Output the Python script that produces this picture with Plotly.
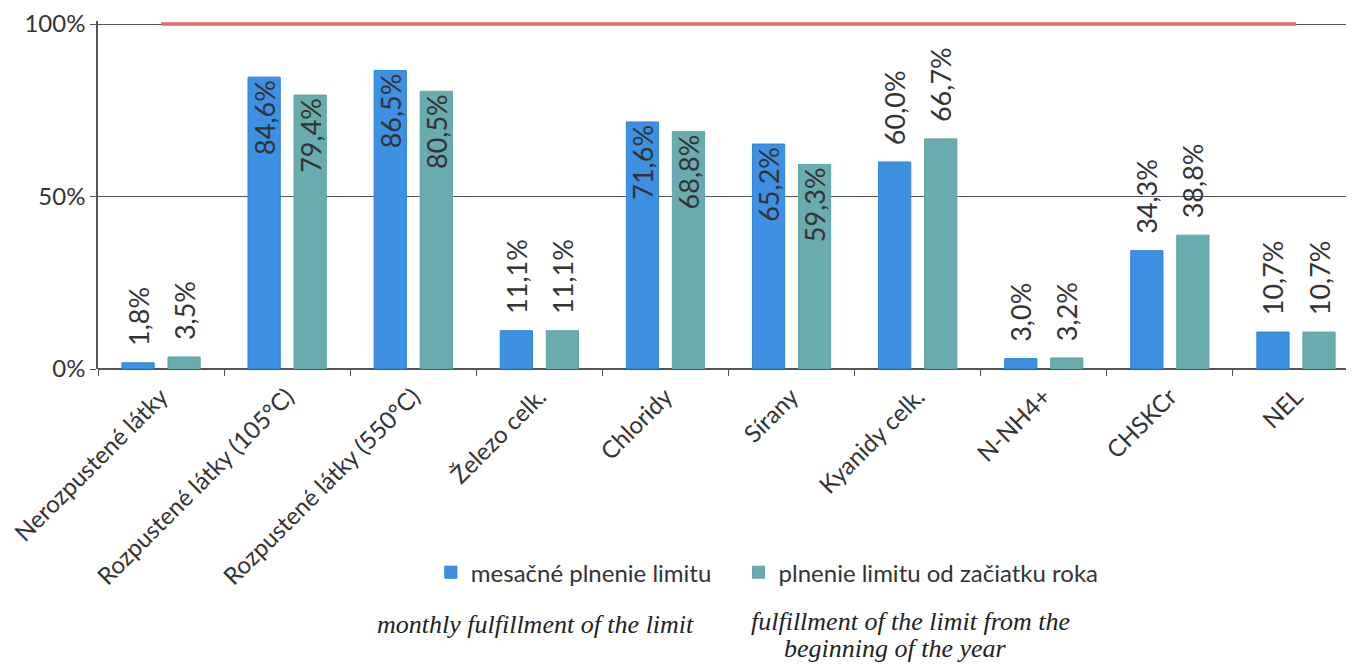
import plotly.graph_objects as go

categories = ["Nerozpustené látky", "Rozpustené látky (105°C)", "Rozpustené látky (550°C)",
              "Železo celk.", "Chloridy", "Sírany", "Kyanidy celk.", "N-NH4+", "CHSKCr", "NEL"]
monthly = [1.8, 84.6, 86.5, 11.1, 71.6, 65.2, 60.0, 3.0, 34.3, 10.7]
ytd = [3.5, 79.4, 80.5, 11.1, 68.8, 59.3, 66.7, 3.2, 38.8, 10.7]
limit = [100, 100, 100, 100, 100, 100, 100, 100, 100, 100]
y_ticks = [0, 50, 100]
y_tick_labels = ["0%", "50%", "100%"]

name_monthly = "mesačné plnenie limitu"
name_ytd = "plnenie limitu od začiatku roka"
note_monthly = "monthly fulfillment of the limit"
note_ytd_1 = "fulfillment of the limit from the"
note_ytd_2 = "beginning of the year"

pos_monthly = ["outside", "inside", "inside", "outside", "inside", "inside", "outside", "outside", "outside", "outside"]
pos_ytd = ["outside", "inside", "inside", "outside", "inside", "inside", "outside", "outside", "outside", "outside"]

def fmt(v, pos):
    s = f"{v:.1f}".replace(".", ",") + "%"
    # small gap between bar top and outside label
    return ("\u00a0\u00a0" + s) if pos == "outside" else s

FONT = "Lato"
TXT = "#333333"
SERIF = "Liberation Serif"

fig = go.Figure()
fig.add_trace(go.Bar(
    x=categories, y=monthly, name=name_monthly, legend="legend",
    marker=dict(color="#3d90e2", line=dict(color="#2a83dc", width=1)),
    text=[fmt(v, p) for v, p in zip(monthly, pos_monthly)], textposition=pos_monthly, textangle=-90,
    insidetextanchor="end", constraintext="none", cliponaxis=False,
    textfont=dict(family=FONT, size=27, color=TXT),
))
fig.add_trace(go.Bar(
    x=categories, y=ytd, name=name_ytd, legend="legend2",
    marker=dict(color="#6aabad", line=dict(color="#5ea3a8", width=1)),
    text=[fmt(v, p) for v, p in zip(ytd, pos_ytd)], textposition=pos_ytd, textangle=-90,
    insidetextanchor="end", constraintext="none", cliponaxis=False,
    textfont=dict(family=FONT, size=27, color=TXT),
))
fig.add_trace(go.Scatter(
    x=categories, y=limit, mode="lines", showlegend=False,
    line=dict(color="#e8686a", width=3.5),
))

legend_style = dict(orientation="h", yanchor="middle", xanchor="left",
                    font=dict(family=FONT, size=24, color=TXT), itemwidth=30,
                    bgcolor="rgba(0,0,0,0)")

fig.update_layout(
    width=1346, height=656,
    margin=dict(l=87, r=0, t=12, b=295),
    paper_bgcolor="white", plot_bgcolor="white",
    barmode="group", bargap=0.27, bargroupgap=0.30,
    font=dict(family=FONT, size=24, color=TXT),
    showlegend=True,
    legend=dict(x=0.265, y=-0.585, **legend_style),
    legend2=dict(x=0.510, y=-0.585, **legend_style),
    xaxis=dict(
        type="category", range=[-0.5, 9.46], tickangle=-45,
        tickson="boundaries", ticks="outside", ticklen=6, tickcolor="#555555",
        ticklabelstandoff=8,
        showline=False, showgrid=False, zeroline=False,
        tickfont=dict(family=FONT, size=24, color=TXT),
    ),
    yaxis=dict(
        range=[0, 100.87], tickvals=y_ticks, ticktext=y_tick_labels,
        showgrid=True, gridcolor="#555555", gridwidth=1,
        zeroline=True, zerolinecolor="#555555", zerolinewidth=1.5,
        showline=True, linecolor="#555555", linewidth=1.5,
        ticks="outside", ticklen=6, tickcolor="#555555",
        ticklabeloverflow="allow",
        tickfont=dict(family=FONT, size=24, color=TXT),
    ),
    annotations=[
        dict(text="<i>" + note_monthly + "</i>", xref="paper", yref="paper",
             x=0.348, y=-0.735, xanchor="center", yanchor="middle", showarrow=False,
             font=dict(family=SERIF, size=26, color="#222222")),
        dict(text="<i>" + note_ytd_1 + "</i>", xref="paper", yref="paper",
             x=0.647, y=-0.725, xanchor="center", yanchor="middle", showarrow=False,
             font=dict(family=SERIF, size=26, color="#222222")),
        dict(text="<i>" + note_ytd_2 + "</i>", xref="paper", yref="paper",
             x=0.635, y=-0.802, xanchor="center", yanchor="middle", showarrow=False,
             font=dict(family=SERIF, size=26, color="#222222")),
    ],
)

fig.write_html("out.html")
